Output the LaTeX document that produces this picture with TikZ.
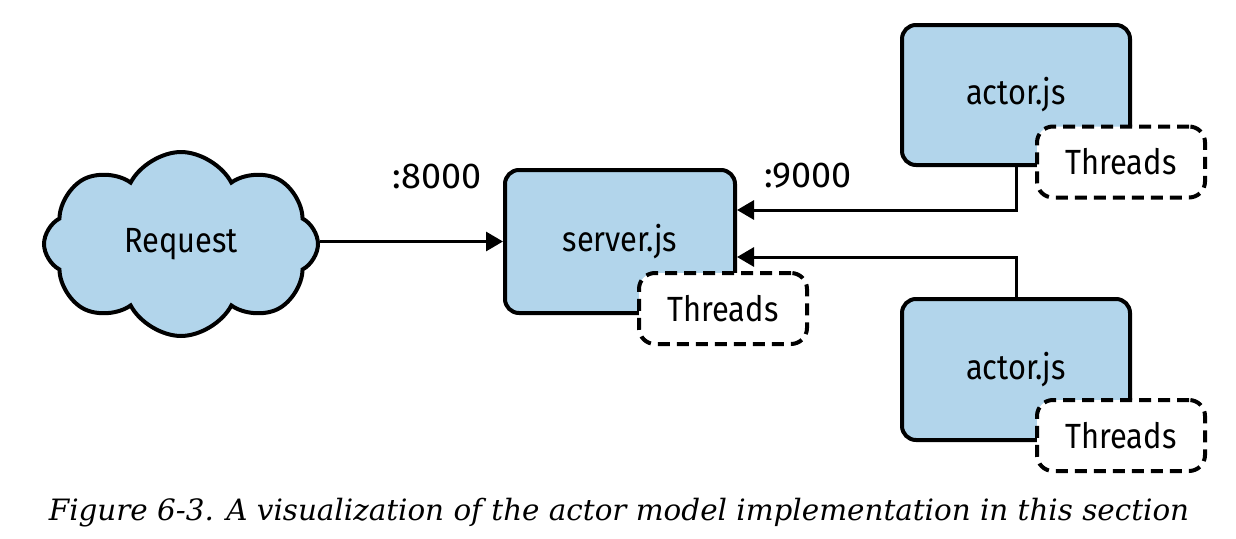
\documentclass[tikz,border=0pt]{standalone}
\usepackage{fontspec}
\setmainfont{Fira Sans}[FakeStretch=0.88]
\newfontfamily\numfont{Fira Sans}
\newfontfamily\capfont{DejaVu Serif}
\usetikzlibrary{shapes.symbols,arrows.meta}
\definecolor{boxblue}{RGB}{178,213,235}
\begin{document}
\begin{tikzpicture}[x=1pt,y=-1pt,
  lab/.style={font=\fontsize{35}{40}\selectfont},
  num/.style={font=\numfont\fontsize{36}{40}\selectfont},
  box/.style={draw, line width=4pt, fill=boxblue, rounded corners=14pt, inner sep=0pt, lab},
  thr/.style={draw, line width=4pt, dash pattern=on 12pt off 7pt, fill=white, rounded corners=16pt, inner sep=0pt, lab, minimum width=168pt, minimum height=71pt},
  conn/.style={line width=3pt, -{Triangle[length=17pt,width=19pt]}}]
\useasboundingbox (0,0) rectangle (1236,538);
\node[cloud, draw, line width=4pt, fill=boxblue, cloud puffs=8, cloud puff arc=125, aspect=1.5, minimum width=274pt, minimum height=184pt, inner sep=0pt, lab] (req) at (181,244) {Request};
\node[box, minimum width=230pt, minimum height=143pt] (srv) at (620,241.5) {server.js};
\node[box, minimum width=228pt, minimum height=140pt] (a1) at (1016,95) {actor.js};
\node[box, minimum width=228pt, minimum height=141pt] (a2) at (1016,369.5) {actor.js};
\draw[conn] (req.east |- srv.west) -- (srv.west);
\draw[conn] (a1.south) |- ([yshift=31.5pt]srv.east);
\draw[conn] (a2.north) |- ([yshift=-15.5pt]srv.east);
\node[thr] (t0) at (723,308.5) {Threads};
\node[thr] (t1) at (1121,162) {Threads};
\node[thr] (t2) at (1121,435.5) {Threads};
\node[num, anchor=center] (p8) at (437,176) {:8000};
\node[num, anchor=center] (p9) at (808,176) {:9000};
\node[font=\capfont\itshape\fontsize{29.4}{33}\selectfont] (cap) at (619,513) {Figure 6-3. A visualization of the actor model implementation in this section};
\end{tikzpicture}
\end{document}
